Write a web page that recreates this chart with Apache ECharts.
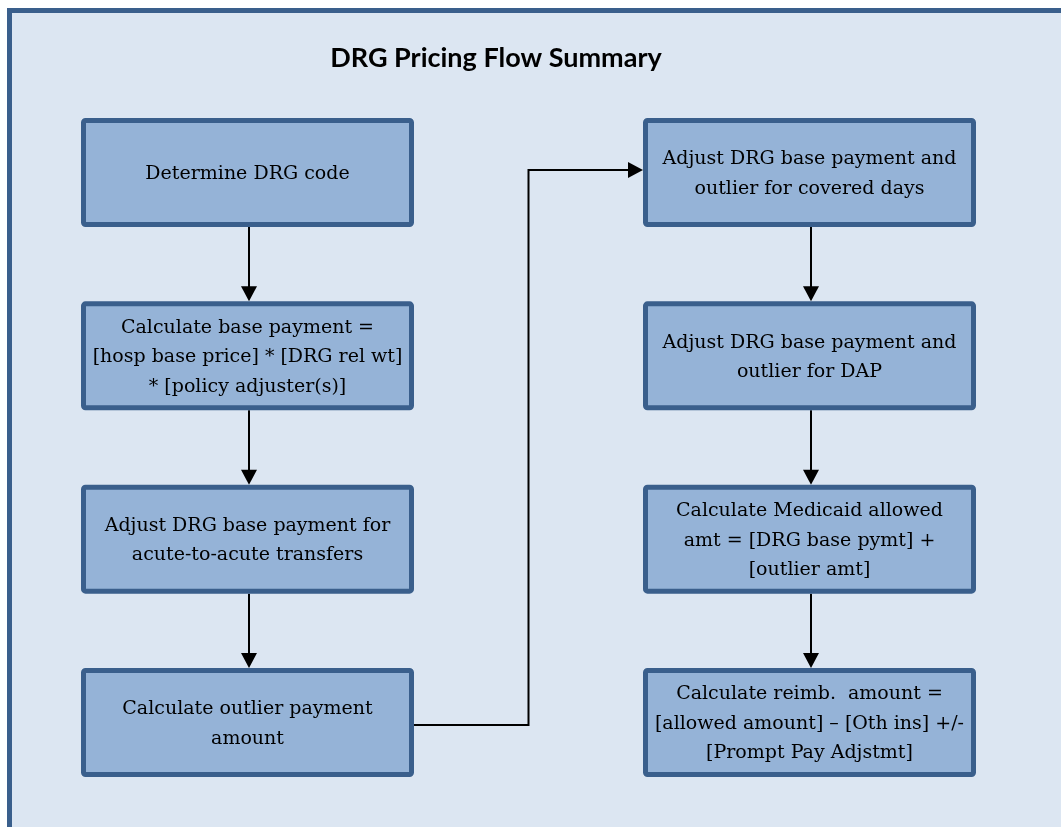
<!DOCTYPE html>
<html>
<head>
<meta charset="utf-8">
<script src="https://cdn.jsdelivr.net/npm/echarts@6/dist/echarts.min.js"></script>
<style>
  html, body { margin: 0; padding: 0; background: #ffffff; }
  #chart { width: 1061px; height: 827px; }
</style>
</head>
<body>
<div id="chart"></div>
<script>
// ---- data ----
const chartTitle = 'DRG Pricing Flow Summary';
const stepLabels = [
  'Determine DRG code',
  'Calculate base payment =\n[hosp base price] * [DRG rel wt]\n* [policy adjuster(s)]',
  'Adjust DRG base payment for\nacute-to-acute transfers',
  'Calculate outlier payment\namount',
  'Adjust DRG base payment and\noutlier for covered days',
  'Adjust DRG base payment and\noutlier for DAP',
  'Calculate Medicaid allowed\namt = [DRG base pymt] +\n[outlier amt]',
  'Calculate reimb.  amount =\n[allowed amount] \u2013 [Oth ins] +/-\n[Prompt Pay Adjstmt]'
];
const stepColumn = [0, 0, 0, 0, 1, 1, 1, 1];
const stepRow    = [0, 1, 2, 3, 0, 1, 2, 3];
const links = [[0, 1], [1, 2], [2, 3], [3, 4], [4, 5], [5, 6], [6, 7]];

// ---- layout / style ----
const BOX_W = 333, BOX_H = 109, BORDER = 5;
const BG = '#dce6f2', FILL = '#95b3d7', EDGE = '#3a5f8c';
const HEAD_L = 15, HEAD_W = 8;

const chart = echarts.init(document.getElementById('chart'), null, { renderer: 'canvas' });

function nodeCenter(api, i) {
  return api.coord([stepColumn[i], stepRow[i]]);
}

const boxData = stepLabels.map((l, i) => [stepColumn[i], stepRow[i], i]);

chart.setOption({
  animation: false,
  backgroundColor: '#ffffff',
  graphic: [{
    type: 'rect', z: -10, silent: true,
    shape: { x: 9.5, y: 10.5, width: 1200, height: 1000 },
    style: { fill: BG, stroke: EDGE, lineWidth: 5 }
  }],
  title: {
    text: chartTitle,
    left: 491, top: 40, textAlign: 'center',
    textStyle: { fontFamily: 'Lato', fontWeight: 'bold', fontSize: 27, color: '#000' }
  },
  grid: { left: 247.5, width: 562, top: 172.5, height: 550 },
  xAxis: { type: 'value', min: 0, max: 1, show: false },
  yAxis: { type: 'value', min: 0, max: 3, inverse: true, show: false },
  series: [
    {
      type: 'custom',
      clip: false,
      z: 2,
      data: links,
      renderItem: function (params, api) {
        const a = api.value(0), b = api.value(1);
        const p = nodeCenter(api, a), q = nodeCenter(api, b);
        const children = [];
        const lineStyle = { stroke: '#000', lineWidth: 2, fill: null };
        if (stepColumn[a] === stepColumn[b]) {
          const x = p[0] + 1.5;
          const y0 = p[1] + BOX_H / 2;
          const y1 = q[1] - BOX_H / 2;
          children.push({ type: 'line', shape: { x1: x, y1: y0, x2: x, y2: y1 - HEAD_L + 2 }, style: lineStyle });
          children.push({ type: 'polygon', shape: { points: [[x - HEAD_W, y1 - HEAD_L], [x + HEAD_W, y1 - HEAD_L], [x, y1]] }, style: { fill: '#000' } });
        } else {
          const x0 = p[0] + BOX_W / 2;
          const x1 = q[0] - BOX_W / 2;
          const ya = p[1] + 2.5, yb = q[1] - 2.5;
          const xm = (x0 + x1) / 2;
          children.push({ type: 'polyline', shape: { points: [[x0, ya], [xm, ya], [xm, yb], [x1 - HEAD_L + 2, yb]] }, style: lineStyle });
          children.push({ type: 'polygon', shape: { points: [[x1 - HEAD_L, yb - HEAD_W], [x1 - HEAD_L, yb + HEAD_W], [x1, yb]] }, style: { fill: '#000' } });
        }
        return { type: 'group', children: children };
      }
    },
    {
      type: 'custom',
      clip: false,
      z: 3,
      data: boxData,
      renderItem: function (params, api) {
        const c = api.coord([api.value(0), api.value(1)]);
        const i = api.value(2);
        const w = BOX_W - BORDER, h = BOX_H - BORDER;
        return {
          type: 'group',
          children: [
            {
              type: 'rect',
              shape: { x: c[0] - w / 2, y: c[1] - h / 2, width: w, height: h, r: 2 },
              style: { fill: FILL, stroke: EDGE, lineWidth: BORDER }
            },
            {
              type: 'text',
              style: {
                text: stepLabels[i],
                x: c[0], y: c[1] + 1.5,
                textAlign: 'center', textVerticalAlign: 'middle',
                fontFamily: 'DejaVu Serif', fontSize: 19, lineHeight: 29.5,
                fill: '#000'
              }
            }
          ]
        };
      }
    }
  ]
});
</script>
</body>
</html>
